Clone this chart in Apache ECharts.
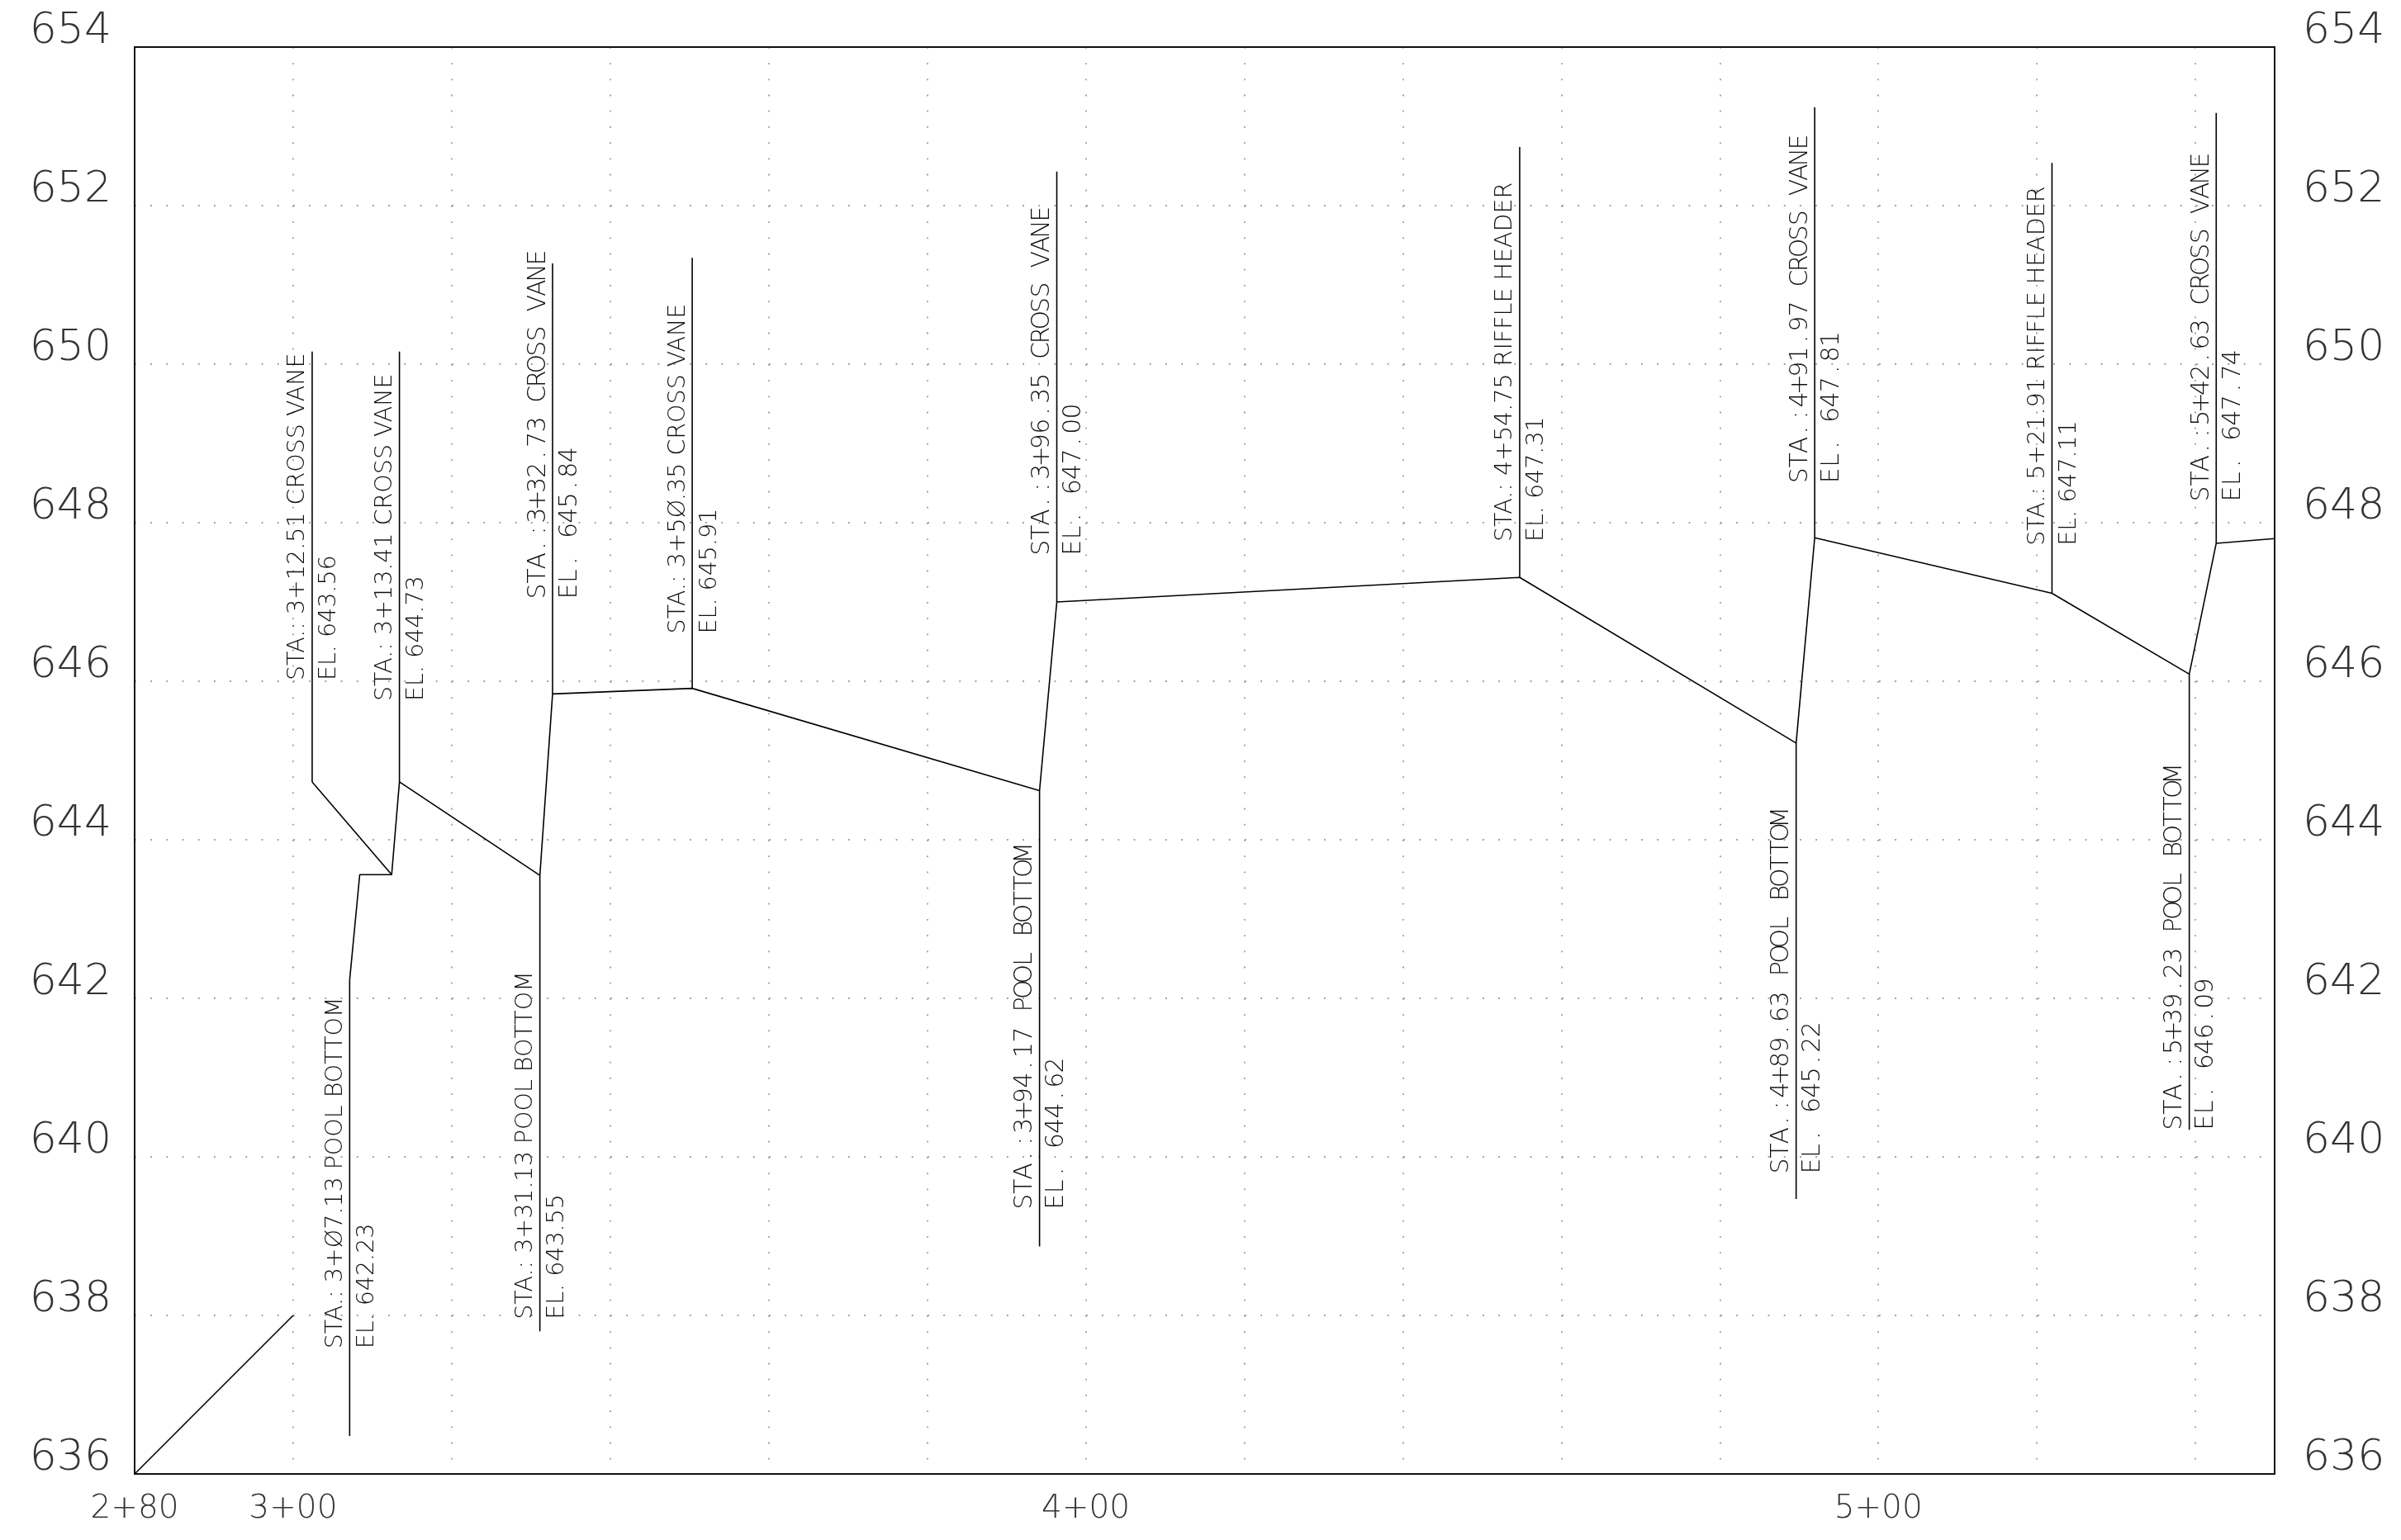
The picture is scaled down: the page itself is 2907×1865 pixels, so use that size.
<!DOCTYPE html>
<html>
<head>
<meta charset="utf-8">
<script src="https://cdn.jsdelivr.net/npm/echarts@6/dist/echarts.min.js"></script>
<style>
html,body{margin:0;padding:0;background:#fff;}
#chart{width:2907px;height:1865px;}
</style>
</head>
<body>
<div id="chart"></div>
<script>
// ---- data ----
const xTickValues = [280, 300, 400, 500];
const xTickLabels = ['2+80', '3+00', '4+00', '5+00'];

// existing ground approach
const approachSta = [280, 300];
const approachEl  = [636, 638];

// short crossing segment near the first vane
const crossSta = [302.4, 312.43];
const crossEl  = [644.73, 643.56];

// design profile
const profileSta = [307.13, 308.4, 312.43, 313.41, 331.13, 332.73, 350.35, 394.17, 396.35, 454.75, 489.63, 491.97, 521.91, 539.23, 542.63, 550];
const profileEl  = [642.23, 643.56, 643.56, 644.73, 643.55, 645.84, 645.91, 644.62, 647.00, 647.31, 645.22, 647.81, 647.11, 646.09, 647.74, 647.80];

// callouts
const noteSta = [302.4, 313.41, 332.73, 350.35, 396.35, 454.75, 491.97, 521.91, 542.63, 307.13, 331.13, 394.17, 489.63, 539.23];
const noteEl  = [644.73, 644.73, 645.84, 645.91, 647.00, 647.31, 647.81, 647.11, 647.74, 642.23, 643.55, 644.62, 645.22, 646.09];
const noteDir = [1, 1, 1, 1, 1, 1, 1, 1, 1, -1, -1, -1, -1, -1];
const noteStaText = [
  'STA.: 3+12.51 CROSS VANE',
  'STA.: 3+13.41 CROSS VANE',
  'STA.:3+32.73 CROSS VANE',
  'STA.: 3+5\u00D8.35 CROSS VANE',
  'STA.:3+96.35 CROSS VANE',
  'STA.: 4+54.75 RIFFLE HEADER',
  'STA.:4+91.97 CROSS VANE',
  'STA.: 5+21.91 RIFFLE HEADER',
  'STA.:5+42.63 CROSS VANE',
  'STA.: 3+\u00D87.13 POOL BOTTOM',
  'STA.: 3+31.13 POOL BOTTOM',
  'STA.:3+94.17 POOL BOTTOM',
  'STA.:4+89.63 POOL BOTTOM',
  'STA.:5+39.23 POOL BOTTOM'
];
const noteElText = [
  'EL. 643.56', 'EL. 644.73', 'EL. 645.84', 'EL. 645.91', 'EL. 647.00',
  'EL. 647.31', 'EL. 647.81', 'EL. 647.11', 'EL. 647.74',
  'EL. 642.23', 'EL. 643.55', 'EL. 644.62', 'EL. 645.22', 'EL. 646.09'
];

// ---- layout / style for the callouts (kept apart from the data) ----
const noteFace  = ['A','A','B','A','B','A','B','A','B','A','A','B','B','B'];
const noteShift = [1.28, 1.02, 1.20, 0.69, 0.59, 0.45, 0.69, 0.60, 0.53, 1.10, 0.15, 0.47, 0.32, 0.0];
const LEADER_UP = 5.43, LEADER_DOWN = 5.75;
const MONO_PITCH = 18.36;

const pairs = (xs, ys) => xs.map((x, i) => [x, ys[i]]);

const chart = echarts.init(document.getElementById('chart'), null, {renderer: 'canvas', devicePixelRatio: 1});

const labelFont = 'DejaVu Sans';
const dotLine = {color: '#9a9a9a', width: 1.8, type: [1.8, 17.4]};
const thinFont = {fontFamily: 'DejaVu Sans', fontWeight: 200};

function textRun(str, x, y0, mono) {
  if (!mono) {
    return [{type: 'text', x: x, y: y0, rotation: Math.PI / 2,
      style: Object.assign({text: str, align: 'left', verticalAlign: 'middle', fill: '#111', fontSize: 28.5}, thinFont)}];
  }
  const out = [];
  for (let k = 0; k < str.length; k++) {
    const ch = str[k];
    if (ch === ' ') continue;
    out.push({type: 'text', x: x, y: y0 - (k + 0.5) * MONO_PITCH, rotation: Math.PI / 2,
      style: Object.assign({text: ch, align: 'center', verticalAlign: 'middle', fill: '#111', fontSize: 30}, thinFont)});
  }
  return out;
}

function renderNote(params, api) {
  const i = api.value(2);
  const p = api.coord([api.value(0), api.value(1)]);
  const ftPx = api.size([0, 1])[1];
  const dir = noteDir[i];
  const len = (dir > 0 ? LEADER_UP : LEADER_DOWN) * ftPx;
  const yEnd = p[1] - dir * len;
  const startY = dir > 0 ? p[1] - noteShift[i] * ftPx : yEnd - noteShift[i] * ftPx;
  const mono = noteFace[i] === 'B';
  const children = [
    {type: 'line', shape: {x1: p[0], y1: p[1], x2: p[0], y2: yEnd},
     style: {stroke: '#000', lineWidth: 1.6}}
  ].concat(textRun(noteStaText[i], p[0] - 17, startY, mono))
   .concat(textRun(noteElText[i], p[0] + 21, startY, mono));
  return {type: 'group', children: children};
}

const frameLine = {show: true, lineStyle: {color: '#111', width: 2}};

const option = {
  animation: false,
  backgroundColor: '#fff',
  grid: {left: 163, right: 153, top: 57, bottom: 80},
  xAxis: [
    {
      type: 'value', min: 280, max: 550, interval: 20, position: 'bottom',
      axisLine: frameLine, axisTick: {show: false},
      splitLine: {show: true, lineStyle: dotLine},
      axisLabel: {
        margin: 23, fontSize: 39, fontFamily: labelFont, fontWeight: 200, color: '#333',
        formatter: v => { const k = xTickValues.indexOf(v); return k >= 0 ? xTickLabels[k] : ''; }
      }
    },
    {
      type: 'value', min: 280, max: 550, position: 'top',
      axisLine: frameLine, axisTick: {show: false}, axisLabel: {show: false}, splitLine: {show: false}
    }
  ],
  yAxis: [
    {
      type: 'value', min: 636, max: 654, interval: 2, position: 'left',
      axisLine: frameLine, axisTick: {show: false},
      splitLine: {show: true, lineStyle: dotLine},
      axisLabel: {margin: 28, fontSize: 52, lineHeight: 38, verticalAlign: 'bottom', fontFamily: labelFont, fontWeight: 200, color: '#333'}
    },
    {
      type: 'value', min: 636, max: 654, interval: 2, position: 'right',
      axisLine: frameLine, axisTick: {show: false}, splitLine: {show: false},
      axisLabel: {margin: 34, fontSize: 52, lineHeight: 38, verticalAlign: 'bottom', fontFamily: labelFont, fontWeight: 200, color: '#333'}
    }
  ],
  series: [
    {type: 'line', data: pairs(approachSta, approachEl), symbol: 'none', lineStyle: {color: '#000', width: 1.6}},
    {type: 'line', data: pairs(crossSta, crossEl), symbol: 'none', lineStyle: {color: '#000', width: 1.6}},
    {type: 'line', data: pairs(profileSta, profileEl), symbol: 'none', lineStyle: {color: '#000', width: 1.6}},
    {type: 'custom', clip: false, renderItem: renderNote,
     data: noteSta.map((s, i) => [s, noteEl[i], i])}
  ]
};
chart.setOption(option);
</script>
</body>
</html>
